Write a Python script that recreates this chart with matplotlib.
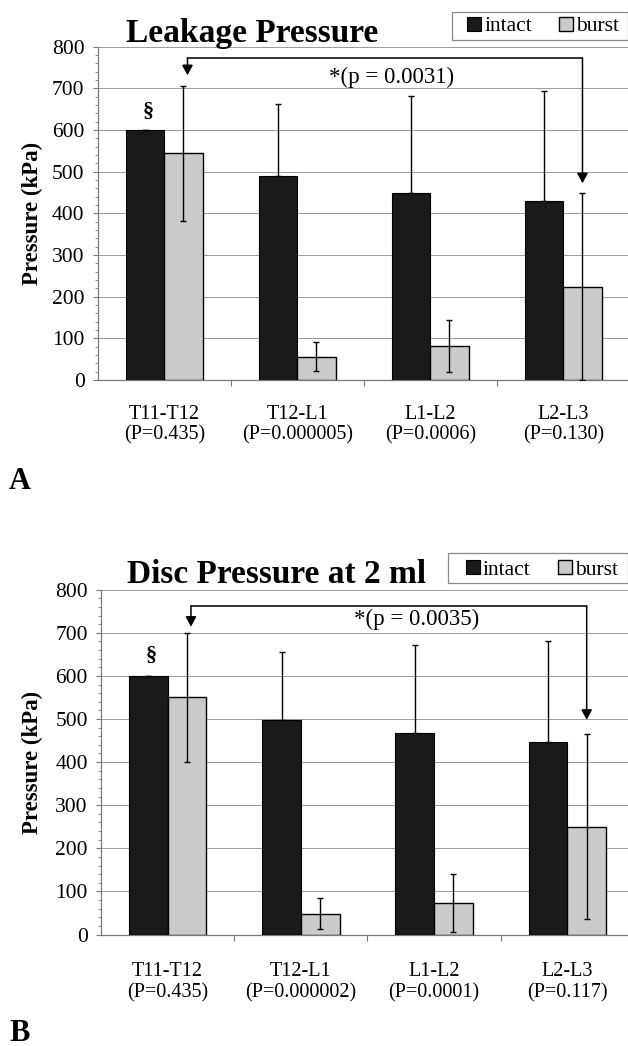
import matplotlib
matplotlib.use("Agg")
import matplotlib.pyplot as plt
import numpy as np
from matplotlib.patches import Rectangle

# ---------------- data ----------------
categories = ['T11-T12', 'T12-L1', 'L1-L2', 'L2-L3']
series_names = ['intact', 'burst']

leak_p_labels = ['(P=0.435)', '(P=0.000005)', '(P=0.0006)', '(P=0.130)']
leak_intact = [600, 490, 448, 430]
leak_intact_sd = [0, 172, 234, 264]
leak_burst = [544, 56, 82, 224]
leak_burst_sd = [162, 35, 62, 224]
leak_sig_text = '*(p = 0.0031)'

disc_p_labels = ['(P=0.435)', '(P=0.000002)', '(P=0.0001)', '(P=0.117)']
disc_intact = [600, 498, 468, 447]
disc_intact_sd = [0, 158, 203, 235]
disc_burst = [550, 48, 73, 250]
disc_burst_sd = [150, 36, 67, 215]
disc_sig_text = '*(p = 0.0035)'

yticks = [0, 100, 200, 300, 400, 500, 600, 700, 800]

# ---------------- style ----------------
W, H = 628, 1046
DPI = 100
SERIF = ['Liberation Serif', 'DejaVu Serif']
plt.rcParams['font.family'] = SERIF
INTACT_C = '#1a1a1a'
BURST_C = '#cbcbcb'
GRID_C = '#9a9a9a'
SPINE_C = '#7a7a7a'
BW = 0.29

fig = plt.figure(figsize=(W / DPI, H / DPI), dpi=DPI)
fig.patch.set_facecolor('white')


def fx(px):
    return px / W


def fy(py):
    return 1 - py / H


def draw_panel(rect, title, title_xy, p_labels, intact, intact_sd, burst, burst_sd,
               sig_text, sig_y, left_tip, right_tip, sig_text_xy, sect_y,
               legend_box, legend_anchor, ylab_x, xpad):
    ax = fig.add_axes(rect)
    x = np.arange(len(categories))
    ax.bar(x - BW / 2, intact, BW, color=INTACT_C, edgecolor='black', linewidth=0.8,
           zorder=3, label=series_names[0])
    ax.bar(x + BW / 2, burst, BW, color=BURST_C, edgecolor='black', linewidth=1.0,
           zorder=3, label=series_names[1])
    ax.errorbar(x - BW / 2, intact, yerr=[np.zeros(len(intact)), intact_sd], fmt='none',
                ecolor='black', elinewidth=1.0, capsize=2.3, capthick=1.0, zorder=4)
    ax.errorbar(x + BW / 2, burst, yerr=burst_sd, fmt='none',
                ecolor='black', elinewidth=1.0, capsize=2.3, capthick=1.0, zorder=4)

    ax.set_xlim(-0.5, len(categories) - 0.5)
    ax.set_ylim(0, 800)
    ax.set_yticks(yticks)
    ax.set_yticks(np.arange(0, 801, 20), minor=True)
    ax.yaxis.grid(True, which='major', color=GRID_C, linewidth=0.7, zorder=0)
    ax.set_axisbelow(True)

    ax.set_xticks(np.arange(len(categories) - 1) + 0.5)
    ax.set_xticklabels([])
    ax.set_xticks(x, minor=True)
    ax.set_xticklabels([c + '\n' + p for c, p in zip(categories, p_labels)],
                       minor=True, fontsize=14.5, linespacing=1.12)
    ax.tick_params(axis='x', which='major', length=4.5, width=0.8, color=SPINE_C,
                   direction='out')
    ax.tick_params(axis='x', which='minor', length=0, pad=xpad)
    ax.tick_params(axis='y', which='major', length=3.5, width=0.8, color=SPINE_C,
                   labelsize=15.5, pad=6)
    ax.tick_params(axis='y', which='minor', length=2.5, width=0.6, color=SPINE_C,
                   direction='out')

    for s in ['top', 'right']:
        ax.spines[s].set_visible(False)
    for s in ['left', 'bottom']:
        ax.spines[s].set_color(SPINE_C)
        ax.spines[s].set_linewidth(0.9)

    ax.set_ylabel('Pressure (kPa)', fontsize=16.5, fontweight='bold')
    ax.yaxis.set_label_coords(ylab_x, 0.5)

    # significance bracket
    xl = 0 + BW / 2 + 0.03
    xr = 3 + BW / 2
    ax.plot([xl, xr], [sig_y, sig_y], color='black', lw=1.1, zorder=5,
            solid_capstyle='butt')
    ap = dict(arrowstyle='-|>,head_length=0.5,head_width=0.27', color='black', lw=1.1,
              shrinkA=0, shrinkB=0, mutation_scale=12)
    ax.annotate('', xy=(xl, left_tip), xytext=(xl, sig_y), arrowprops=ap, zorder=5)
    ax.annotate('', xy=(xr, right_tip), xytext=(xr, sig_y), arrowprops=ap, zorder=5)
    ax.text(sig_text_xy[0], sig_text_xy[1], sig_text, fontsize=16.5, ha='center',
            va='center', zorder=6)
    ax.text(0 - BW / 2 + 0.025, sect_y, '§', fontsize=16, fontweight='bold',
            ha='center', va='center', zorder=6)

    # title
    fig.text(fx(title_xy[0]), fy(title_xy[1]), title, fontsize=24, fontweight='bold',
             ha='left', va='baseline')

    # legend frame + legend
    bx0, by0, bx1, by1 = legend_box
    fig.patches.append(Rectangle((fx(bx0), fy(by1)), fx(bx1) - fx(bx0), fy(by0) - fy(by1),
                                 transform=fig.transFigure, fill=False,
                                 edgecolor='#8a8a8a', linewidth=0.9))
    handles, labels = ax.get_legend_handles_labels()
    ax.legend(handles, labels, loc='center left',
              bbox_to_anchor=(fx(legend_anchor[0]), fy(legend_anchor[1])),
              bbox_transform=fig.transFigure, frameon=False, ncol=2, fontsize=15.5,
              borderpad=0, borderaxespad=0, handlelength=0.65, handleheight=0.63,
              handletextpad=0.15, columnspacing=1.25)
    return ax


draw_panel([fx(97.7), fy(380), 532 / W, 333.5 / H], 'Leakage Pressure', (126, 41.7),
           leak_p_labels, leak_intact, leak_intact_sd, leak_burst, leak_burst_sd,
           leak_sig_text, 773, 731, 472, (1.71, 727), 643,
           (452.3, 11.7, 627.5, 40), (467.3, 26.5), -0.103, 18)

draw_panel([fx(101), fy(934.5), 533 / W, 344.8 / H], 'Disc Pressure at 2 ml', (127.4, 582.7),
           disc_p_labels, disc_intact, disc_intact_sd, disc_burst, disc_burst_sd,
           disc_sig_text, 763, 714, 498, (1.87, 731), 646,
           (448, 553.3, 627.5, 582.7), (465.7, 570), -0.109, 20)

fig.text(fx(9), fy(489), 'A', fontsize=22, fontweight='bold', ha='left', va='baseline')
fig.text(fx(9), fy(1041), 'B', fontsize=22, fontweight='bold', ha='left', va='baseline')

fig.savefig('out.png', dpi=DPI, facecolor='white')
